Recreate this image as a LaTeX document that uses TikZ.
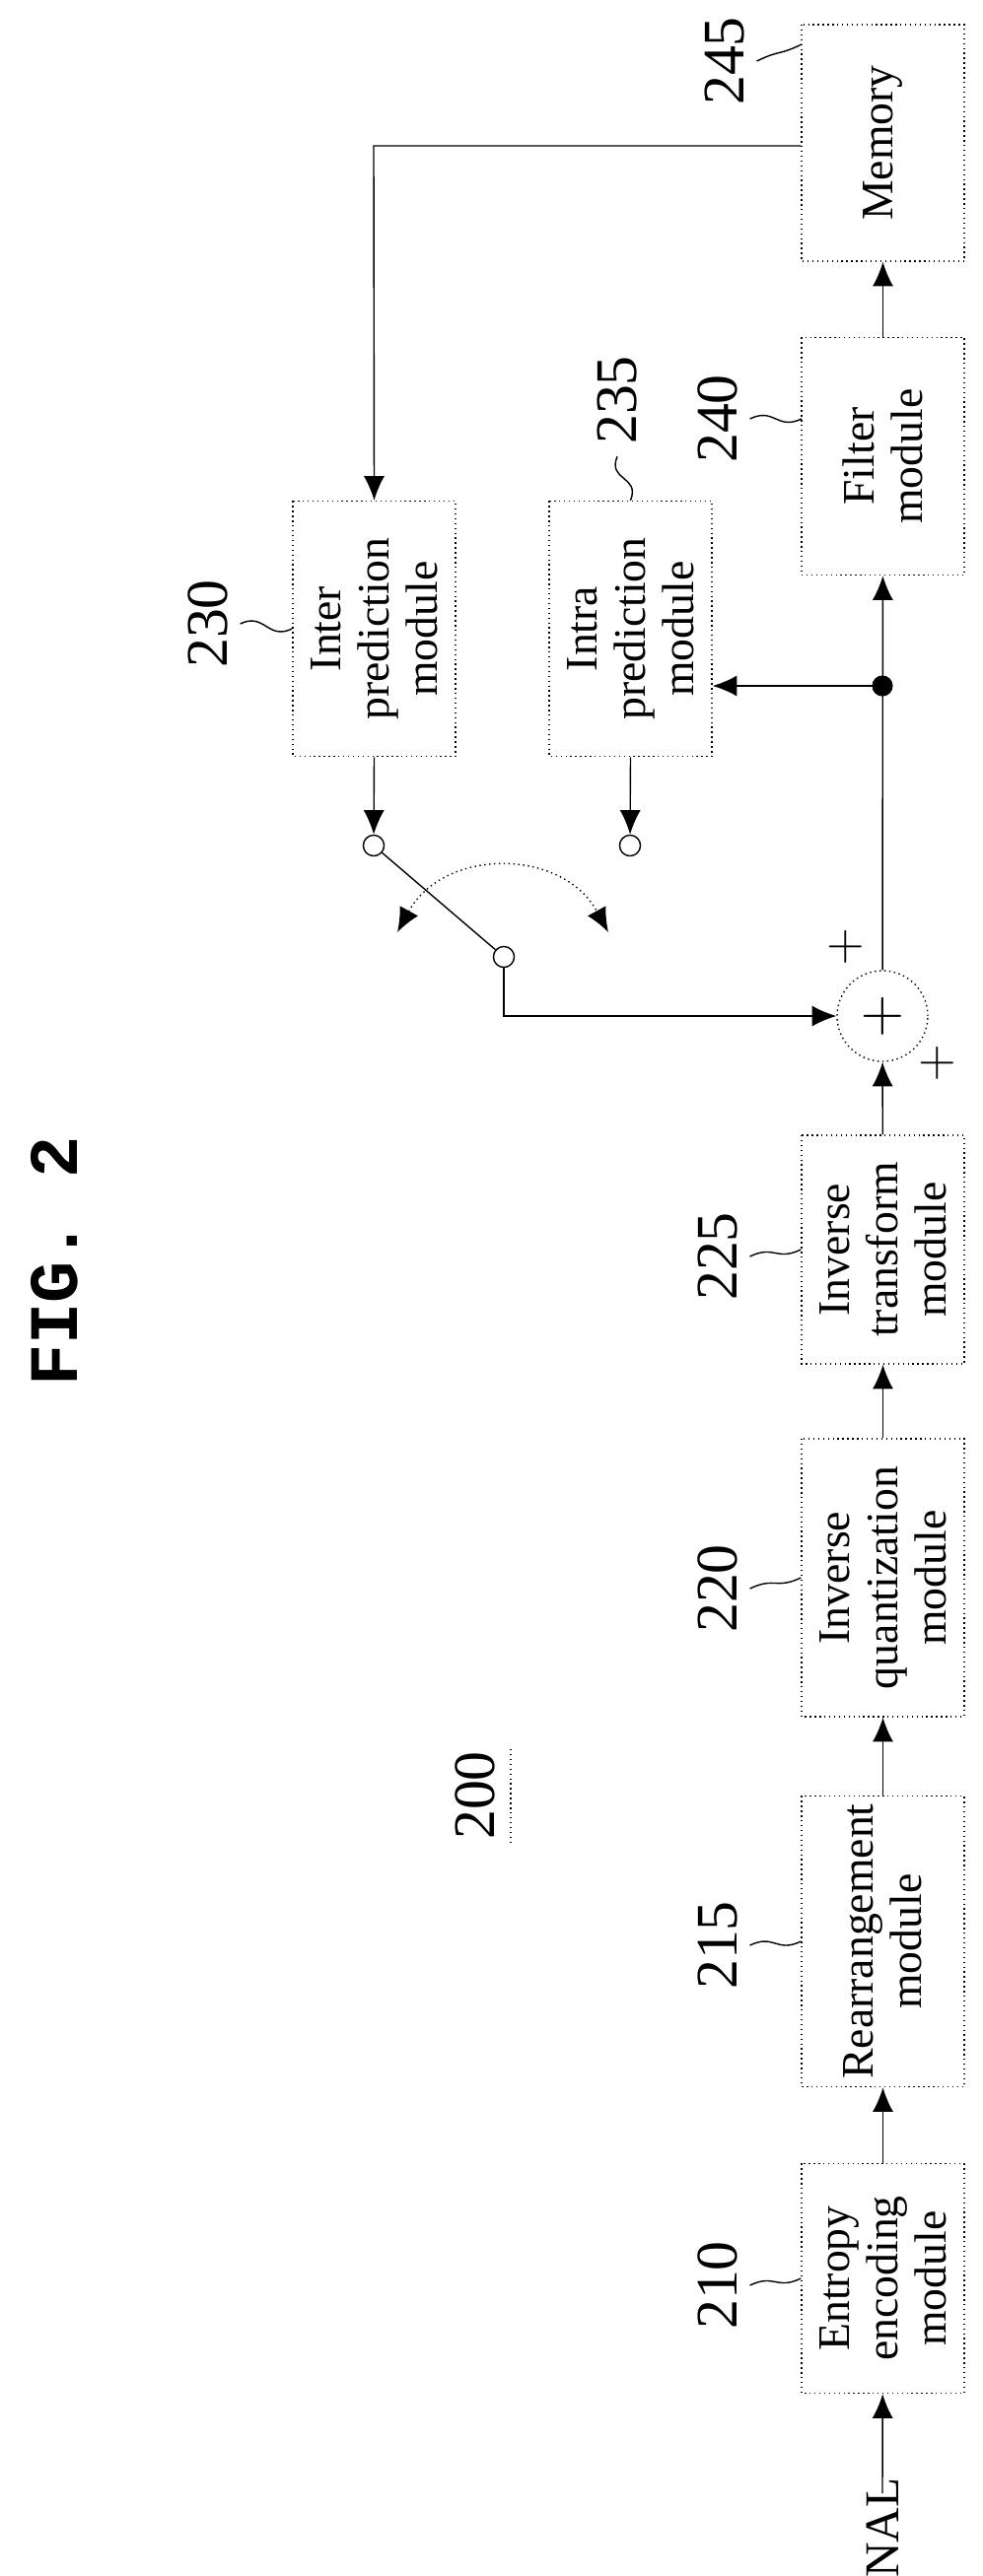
\documentclass[tikz,border=0pt]{standalone}
\usepackage{fontspec}
\setmainfont{Liberation Serif}
\setmonofont{Liberation Mono}
\usetikzlibrary{arrows.meta,calc}

\begin{document}
\begin{tikzpicture}[x=0.01cm,y=-0.01cm,>={Latex[length=7pt,width=6pt]}, thin,
mod/.style ={rectangle, draw, densely dotted, rotate=90, align=center, inner sep=0pt, minimum width=#1, minimum height=1.65cm, font=\fontsize{13}{14}\selectfont},
lab/.style ={rotate=90, font=\fontsize{17}{17}\selectfont},
tip/.style ={draw, circle, fill=white, inner sep=0pt, minimum size=6pt}]

\useasboundingbox (0,0) rectangle (997,2614);

\draw (55,1280) node[rotate=90, font=\ttfamily\bfseries\fontsize{20}{20}\selectfont] (fig) {FIG. 2};
\draw (482,1822) node[lab] (num) {200};
\draw[densely dotted] (518,1775)--(518,1870);

\draw (895.5,2312) node[mod=2.33cm] (Ent) {Entropy\\encoding\\module};
\draw (895.5,1970) node[mod=2.95cm] (Rea) {Rearrangement\\module};
\draw (895.5,1601) node[mod=2.82cm] (IQ) {Inverse\\quantization\\module};
\draw (895.5,1268) node[mod=2.32cm] (IT) {Inverse\\transform\\module};
\draw (895.5,463) node[mod=2.41cm] (Fil) {Filter\\module};
\draw (895.5,145) node[mod=2.4cm] (Mem) {Memory};
\draw (379.5,638) node[mod=2.59cm] (Inter) {Inter\\prediction\\module};
\draw (639.5,638) node[mod=2.59cm] (Intra) {Intra\\prediction\\module};

\draw (895,1031) node[draw, densely dotted, circle, minimum size=0.92cm, font=\fontsize{18}{18}\selectfont] (Sum) {$+$};
\draw (858,961) node[font=\fontsize{14}{14}\selectfont] (p1) {$+$};
\draw (951,1079) node[font=\fontsize{14}{14}\selectfont] (p2) {$+$};

\draw (895,2565) node[rotate=90, font=\fontsize{14}{14}\selectfont] (NAL) {NAL};
\coordinate (in) at (895,2530);
\coordinate (jn) at (895,696);
\coordinate (turn) at (379,148);
\coordinate (bend) at (511,1031);
\draw (379,858) node[tip] (sw1) {};
\draw (511,971) node[tip] (sw2) {};
\draw (639,858) node[tip] (sw3) {};

\draw[->] (in)--(Ent);
\draw[->] (Ent)--(Rea);
\draw[->] (Rea)--(IQ);
\draw[->] (IQ)--(IT);
\draw[->] (IT)--(Sum);
\draw[->] (Sum)--(Fil);
\draw[->] (Fil)--(Mem);
\fill (jn) circle (3pt);
\draw[->] (jn)--(jn-|Intra.south);
\draw[->] (Mem.north east|-turn)--(turn)--(Inter.east);
\draw[->] (Inter.west)--(sw1);
\draw[->] (Intra.west)--(sw3);
\draw (sw1)--(sw2);
\draw[->] (sw2)--(bend)--(Sum);
\draw[densely dotted, <->] (403,946) .. controls (450,860) and (570,860) .. (617,946);

% reference numerals
\draw (735,62) node[lab] (n245) {245};
\draw (728,425) node[lab] (n240) {240};
\draw (626,406) node[lab] (n235) {235};
\draw (211,633) node[lab] (n230) {230};
\draw (728,1275) node[lab] (n225) {225};
\draw (728,1612) node[lab] (n220) {220};
\draw (728,1974) node[lab] (n215) {215};
\draw (728,2319) node[lab] (n210) {210};
\coordinate (m245) at (813,45);
\coordinate (m240) at (813,425);
\draw (n245.south) .. controls +(25,-12) and +(-25,12) .. (m245);
\draw (n240.south) .. controls +(25,-12) and +(-25,12) .. (m240);
\draw (n235.west) .. controls +(-10,25) and +(10,-25) .. (Intra.east);
\draw (n230.south) .. controls +(25,-12) and +(-25,12) .. (Inter.north);
\draw (n225.south) .. controls +(25,-12) and +(-25,12) .. (IT.north);
\draw (n220.south) .. controls +(25,-12) and +(-25,12) .. (IQ.north);
\draw (n215.south) .. controls +(25,-12) and +(-25,12) .. (Rea.north);
\draw (n210.south) .. controls +(25,-12) and +(-25,12) .. (Ent.north);

\end{tikzpicture}
\end{document}
